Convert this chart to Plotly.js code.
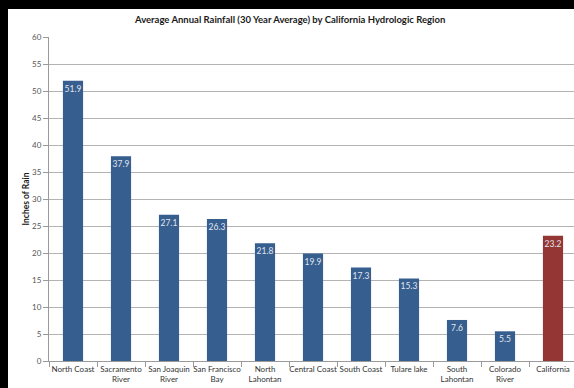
<!DOCTYPE html>
<html>
<head>
<meta charset="utf-8">
<script src="https://cdn.plot.ly/plotly-3.0.1.min.js"></script>
<style>
  html, body { margin: 0; padding: 0; background: #000; overflow: hidden; width: 574px; height: 388px; }
  #chart { position: absolute; left: 8px; top: 9px; width: 570px; height: 379px; background: #fff; }
</style>
</head>
<body>
<div id="chart"></div>
<script>
// Hydrologic regions and their 30-year average annual rainfall (inches)
const regions = ["North Coast", "Sacramento<br>River", "San Joaquin<br>River", "San Francisco<br>Bay",
                 "North<br>Lahontan", "Central Coast", "South Coast", "Tulare lake",
                 "South<br>Lahontan", "Colorado<br>River", "California"];
const rainfall = [51.9, 37.9, 27.1, 26.3, 21.8, 19.9, 17.3, 15.3, 7.6, 5.5, 23.2];
const barColors = ["#365e8f", "#365e8f", "#365e8f", "#365e8f", "#365e8f", "#365e8f",
                   "#365e8f", "#365e8f", "#365e8f", "#365e8f", "#943734"];
const yTicks = [0, 5, 10, 15, 20, 25, 30, 35, 40, 45, 50, 55, 60];

const fontFamily = "Lato, 'Open Sans', sans-serif";

const trace = {
  type: "bar",
  x: regions,
  y: rainfall,
  text: rainfall.map(v => v.toFixed(1)),
  textposition: "inside",
  insidetextanchor: "end",
  constraintext: "none",
  textangle: 0,
  textfont: { family: fontFamily, size: 8.5, color: "#e2e6ee" },
  marker: { color: barColors, line: { width: 0 } },
  hoverinfo: "x+y"
};

const layout = {
  width: 570,
  height: 379,
  margin: { l: 41, r: 1, t: 28, b: 27 },
  paper_bgcolor: "#ffffff",
  plot_bgcolor: "#ffffff",
  bargap: 0.58,
  showlegend: false,
  font: { family: fontFamily, size: 8, color: "#404040" },
  title: {
    text: "<b>Average Annual Rainfall (30 Year Average) by California Hydrologic Region</b>",
    font: { family: fontFamily, size: 9.5, color: "#1a1a1a" },
    x: 0.495, xanchor: "center",
    yref: "container", y: 0.971, yanchor: "middle"
  },
  xaxis: {
    type: "category",
    showgrid: false,
    showline: true,
    linecolor: "#9a9a9a",
    linewidth: 1,
    ticks: "outside",
    tickson: "boundaries",
    ticklen: 5,
    tickcolor: "#9a9a9a",
    tickangle: 0,
    tickfont: { family: fontFamily, size: 8, color: "#333333" },
    automargin: false
  },
  yaxis: {
    range: [0, 60],
    tickvals: yTicks,
    ticktext: yTicks.map(String),
    showgrid: true,
    gridcolor: "#b3b3b3",
    gridwidth: 1,
    showline: true,
    linecolor: "#9a9a9a",
    ticks: "outside",
    ticklen: 5,
    tickcolor: "#9a9a9a",
    tickfont: { family: fontFamily, size: 8, color: "#555555" },
    zeroline: false,
    automargin: false,
    title: {
      text: "<b>Inches of Rain</b>",
      font: { family: fontFamily, size: 8.5, color: "#1a1a1a" },
      standoff: 1
    }
  }
};

Plotly.newPlot("chart", [trace], layout, { displayModeBar: false, staticPlot: true });
</script>
</body>
</html>
